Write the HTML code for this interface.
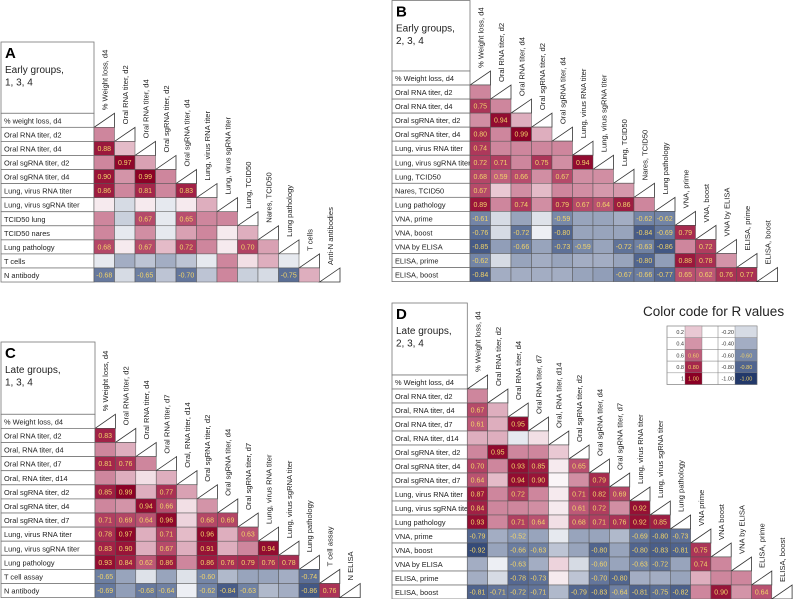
<!DOCTYPE html>
<html><head><meta charset="utf-8"><style>
html,body{margin:0;padding:0;background:#fff;}
svg{display:block;font-family:"Liberation Sans",Arial,sans-serif;}
</style></head><body>
<svg id="fig" width="793" height="599" viewBox="0 0 793 599"></svg>
<script>
const panelALabels=["% weight loss, d4","Oral RNA titer, d2","Oral RNA titer, d4","Oral sgRNA titer, d2","Oral sgRNA titer, d4","Lung, virus RNA titer","Lung, virus sgRNA titer","TCID50 lung","TCID50 nares","Lung pathology","T cells","N antibody"];
const panelACols=["% Weight loss, d4","Oral RNA titer, d2","Oral RNA titer, d4","Oral sgRNA titer, d2","Oral sgRNA titer, d4","Lung, virus RNA titer","Lung, virus sgRNA titer","Lung, TCID50","Nares, TCID50","Lung pathology","T cells","Anti-N antibodies"];
const panelAValues=[[],[0.45],[0.88,0.25],[0.45,0.97,0.35],[0.90,0.4,0.99,0.45],[0.86,0.45,0.81,0.45,0.83],[0.05,-0.2,0.05,-0.1,0.05,0.3],[0.45,-0.25,0.67,-0.1,0.65,0.45,0.45],[0.45,-0.1,0.42,-0.1,0.35,0.45,0.05,0.3],[0.68,0.05,0.67,0.25,0.72,0.45,0.05,0.70,0.35],[-0.1,-0.4,-0.3,-0.4,-0.3,-0.1,0.45,0.1,0.3,-0.1],[-0.68,-0.2,-0.65,-0.3,-0.70,-0.3,0.45,-0.25,-0.2,-0.75,0.3]];

const panelBLabels=["% Weight loss, d4","Oral RNA titer, d2","Oral RNA titer, d4","Oral sgRNA titer, d2","Oral sgRNA titer, d4","Lung, virus RNA titer","Lung, virus sgRNA titer","Lung, TCID50","Nares, TCID50","Lung pathology","VNA, prime","VNA, boost","VNA by ELISA","ELISA, prime","ELISA, boost"];
const panelBCols=["% Weight loss, d4","Oral RNA titer, d2","Oral RNA titer, d4","Oral sgRNA titer, d2","Oral sgRNA titer, d4","Lung, virus RNA titer","Lung, virus sgRNA titer","Lung, TCID50","Nares, TCID50","Lung pathology","VNA, prime","VNA, boost","VNA by ELISA","ELISA, prime","ELISA, boost"];
const panelBValues=[[],[0.45],[0.75,0.45],[0.42,0.94,0.3],[0.80,0.45,0.99,0.3],[0.74,0.45,0.45,0.45,0.45],[0.72,0.71,0.45,0.75,0.42,0.94],[0.68,0.59,0.66,0.42,0.67,0.42,0.42],[0.67,0.2,0.42,0.25,0.45,0.42,0.38,0.38],[0.89,0.45,0.74,0.42,0.79,0.67,0.64,0.86,0.45],[-0.61,-0.2,-0.45,-0.15,-0.59,-0.45,-0.45,-0.4,-0.62,-0.62],[-0.76,-0.2,-0.72,-0.05,-0.80,-0.45,-0.45,-0.45,-0.84,-0.69,0.79],[-0.85,-0.48,-0.66,-0.45,-0.73,-0.59,-0.45,-0.72,-0.63,-0.86,0.45,0.72],[-0.62,-0.2,-0.45,-0.4,-0.45,-0.4,-0.4,-0.45,-0.80,-0.48,0.88,0.78,0.4],[-0.84,-0.4,-0.4,-0.4,-0.4,-0.45,-0.48,-0.67,-0.66,-0.77,0.65,0.62,0.76,0.77]];

const panelCLabels=["% Weight loss, d4","Oral RNA titer, d2","Oral, RNA titer, d4","Oral RNA titer, d7","Oral, RNA titer, d14","Oral sgRNA titer, d2","Oral sgRNA titer, d4","Oral sgRNA titer, d7","Lung, virus RNA titer","Lung, virus sgRNA titer","Lung pathology","T cell assay","N antibody"];
const panelCCols=["% Weight loss, d4","Oral RNA titer, d2","Oral RNA titer, d4","Oral RNA titer, d7","Oral, RNA titer, d14","Oral sgRNA titer, d2","Oral sgRNA titer, d4","Oral sgRNA titer, d7","Lung, virus RNA titer","Lung, virus sgRNA titer","Lung pathology","T cell assay","N ELISA"];
const panelCValues=[[],[0.83],[0.45,0.3],[0.81,0.76,0.45],[0.45,0.3,0.1,0.3],[0.85,0.99,0.3,0.77,0.35],[0.45,0.4,0.94,0.66,0.1,0.4],[0.71,0.69,0.64,0.96,0.15,0.68,0.69],[0.78,0.97,0.3,0.71,0.25,0.96,0.3,0.63],[0.83,0.90,0.3,0.67,0.3,0.91,0.3,0.45,0.94],[0.93,0.84,0.62,0.86,0.45,0.86,0.76,0.79,0.76,0.78],[-0.65,-0.45,-0.15,-0.45,-0.15,-0.60,-0.35,-0.45,-0.45,-0.4,-0.74],[-0.69,-0.48,-0.68,-0.64,-0.05,-0.62,-0.84,-0.63,-0.35,-0.4,-0.86,0.76]];

const panelDLabels=["% Weight loss, d4","Oral RNA titer, d2","Oral, RNA titer, d4","Oral RNA titer, d7","Oral, RNA titer, d14","Oral sgRNA titer, d2","Oral sgRNA titer, d4","Oral sgRNA titer, d7","Lung, virus RNA titer","Lung, virus sgRNA titer","Lung pathology","VNA, prime","VNA, boost","VNA by ELISA","ELISA, prime","ELISA,  boost"];
const panelDCols=["% Weight loss, d4","Oral RNA titer, d2","Oral RNA titer, d4","Oral RNA titer, d7","Oral, RNA titer, d14","Oral sgRNA titer, d2","Oral sgRNA titer, d4","Oral sgRNA titer, d7","Lung, virus RNA titer","Lung, virus sgRNA titer","Lung pathology","VNA prime","VNA boost","VNA by ELISA","ELISA, prime","ELISA, boost"];
const panelDValues=[[],[0.45],[0.67,0.3],[0.61,0.3,0.95],[0.3,0.3,-0.1,0.1],[0.45,0.95,0.45,0.45,0.2],[0.70,0.45,0.93,0.85,0.05,0.65],[0.64,0.25,0.94,0.90,0.0,0.42,0.79],[0.87,0.45,0.72,0.45,0.05,0.71,0.82,0.69],[0.84,0.45,0.45,0.42,0.05,0.61,0.72,0.42,0.92],[0.93,0.45,0.71,0.64,0.1,0.68,0.71,0.76,0.92,0.85],[-0.79,-0.4,-0.52,-0.45,-0.1,-0.45,-0.45,-0.35,-0.69,-0.80,-0.73],[-0.92,-0.45,-0.66,-0.63,-0.3,-0.45,-0.80,-0.45,-0.80,-0.83,-0.81,0.75],[-0.4,-0.05,-0.63,-0.4,0.15,-0.2,-0.60,-0.45,-0.63,-0.72,-0.45,0.74,0.45],[-0.4,-0.2,-0.78,-0.73,0.05,-0.3,-0.70,-0.80,-0.4,-0.4,-0.45,0.3,0.45,0.45],[-0.81,-0.71,-0.72,-0.71,-0.35,-0.79,-0.83,-0.64,-0.81,-0.75,-0.82,0.45,0.90,0.4,0.64]];

const legendPos=[0.2,0.4,0.6,0.8,1.0];
const legendNeg=[-0.2,-0.4,-0.6,-0.8,-1.0];

const NS="http://www.w3.org/2000/svg";
const svg=document.getElementById('fig');
function mk(tag,attrs,parent,text){const e=document.createElementNS(NS,tag);for(const k in attrs)e.setAttribute(k,attrs[k]);if(text!==undefined)e.textContent=text;(parent||svg).appendChild(e);return e;}
const posStops=[[0,[250,245,247]],[0.2,[233,200,211]],[0.4,[211,148,168]],[0.6,[190,92,122]],[0.8,[165,40,77]],[1,[138,0,37]]];
const negStops=[[0,[245,246,249]],[0.2,[214,219,228]],[0.4,[163,173,195]],[0.6,[118,135,168]],[0.8,[81,101,143]],[1,[35,57,106]]];
function color(v){const s=v>=0?posStops:negStops;const a=Math.min(1,Math.abs(v));for(let i=1;i<s.length;i++){if(a<=s[i][0]){const t=(a-s[i-1][0])/(s[i][0]-s[i-1][0]);const c=s[i-1][1].map((x,k)=>Math.round(x+(s[i][1][k]-x)*t));return `rgb(${c})`;}}return `rgb(${s[s.length-1][1]})`;}

function panel(cfg){
  const g=mk('g',{});
  
  
  const n=cfg.labels.length, x0=cfg.x0, y0=cfg.y0, cw=cfg.cw, rh=cfg.rh, lx=cfg.lx;
  const tb=mk('rect',{x:lx,y:cfg.ty,width:x0-lx,height:y0-cfg.ty,fill:'#fff',stroke:'#777','stroke-width':0.8},g);
  
  
  const tl=mk('text',{x:lx+4,y:cfg.ty+16,'font-size':15,'font-weight':'bold',fill:'#000'},g,cfg.id.toUpperCase());
  
  
  cfg.title.forEach((t,k)=>{const e=mk('text',{x:lx+4,y:cfg.ty+31+k*12.5,'font-size':10,fill:'#222'},g,t);
    
    });
  for(let i=0;i<n;i++){
    const y=y0+i*rh;
    const lb=mk('rect',{x:lx,y:y,width:x0-lx,height:rh,fill:'#fff',stroke:'#777','stroke-width':0.8},g);
    
    
    const lt=mk('text',{x:lx+3,y:y+rh/2+3,'font-size':7.4,fill:'#222'},g,cfg.labels[i]);
    
    
    const row=cfg.values[i];
    for(let j=0;j<i;j++){
      const v=row[j];
      const c=mk('rect',{x:x0+j*cw,y:y,width:cw,height:rh,fill:color(v),stroke:'#555','stroke-width':0.5},g);
      
      
      if(Math.abs(v)>=0.5){
        const t=mk('text',{x:x0+j*cw+cw/2,y:y+rh/2+2.5,'font-size':7,'text-anchor':'middle',fill:'#f3d46a'},g,v.toFixed(2));
        
        
      }
    }
    const dx=x0+i*cw;
    const d=mk('path',{d:`M${dx},${y+rh} L${dx+cw},${y} L${dx+cw},${y+rh} Z`,fill:'#fff',stroke:'#333','stroke-width':0.8},g);
    
    
    const cx=dx+cw/2, by=y-3;
    const ch=mk('text',{x:0,y:0,'font-size':7.6,fill:'#222',transform:`translate(${cx+3},${by}) rotate(-90)`},g,cfg.cols[i]);
    
    
  }
}
panel({id:'a',lx:1,ty:42,x0:94,y0:113.3,cw:20.5,rh:14.06,labels:panelALabels,cols:panelACols,values:panelAValues,title:['Early groups,','1, 3, 4']});
panel({id:'b',lx:392,ty:0.5,x0:470,y0:71,cw:20.5,rh:14.04,labels:panelBLabels,cols:panelBCols,values:panelBValues,title:['Early groups,','2, 3, 4']});
panel({id:'c',lx:1,ty:342,x0:95,y0:414.3,cw:20.4,rh:14.1,labels:panelCLabels,cols:panelCCols,values:panelCValues,title:['Late groups,','1, 3, 4']});
panel({id:'d',lx:392,ty:303,x0:467.3,y0:375,cw:20.3,rh:14.0,labels:panelDLabels,cols:panelDCols,values:panelDValues,title:['Late groups,','2, 3, 4']});

const lg=mk('g',{});


const lt=mk('text',{x:643,y:316,'font-size':13.5,fill:'#222'},lg,'Color code for R values');


const lgx=667, lgy=326, lrh=11.7;
mk('rect',{x:lgx,y:lgy,width:90,height:lrh*5,fill:'#fff',stroke:'#777','stroke-width':0.6},lg);
legendPos.forEach((v,k)=>{
  const y=lgy+k*lrh;
  mk('rect',{x:lgx,y:y,width:90,height:lrh,fill:'none',stroke:'#999','stroke-width':0.5},lg);
  const a=mk('text',{x:lgx+17,y:y+lrh/2+2,'font-size':5.5,'text-anchor':'end',fill:'#333'},lg,String(v===1?1:v));
  
  
  const s=mk('rect',{x:lgx+18,y:y,width:17,height:lrh,fill:color(v),stroke:'#777','stroke-width':0.4},lg);
  
  
  if(v>=0.6) mk('text',{x:lgx+26.5,y:y+lrh/2+2,'font-size':5.5,'text-anchor':'middle',fill:'#f3d46a'},lg,v.toFixed(2));
  const nv=legendNeg[k];
  const b=mk('text',{x:lgx+67,y:y+lrh/2+2,'font-size':5.5,'text-anchor':'end',fill:'#333'},lg,nv.toFixed(2));
  
  
  const s2=mk('rect',{x:lgx+68,y:y,width:22,height:lrh,fill:color(nv),stroke:'#777','stroke-width':0.4},lg);
  
  
  if(nv<=-0.6) mk('text',{x:lgx+79,y:y+lrh/2+2,'font-size':5.5,'text-anchor':'middle',fill:'#f3d46a'},lg,nv.toFixed(2));
});
mk('line',{x1:lgx+51,y1:lgy,x2:lgx+51,y2:lgy+lrh*5,stroke:'#777','stroke-width':0.5},lg);
</script>
</body></html>
